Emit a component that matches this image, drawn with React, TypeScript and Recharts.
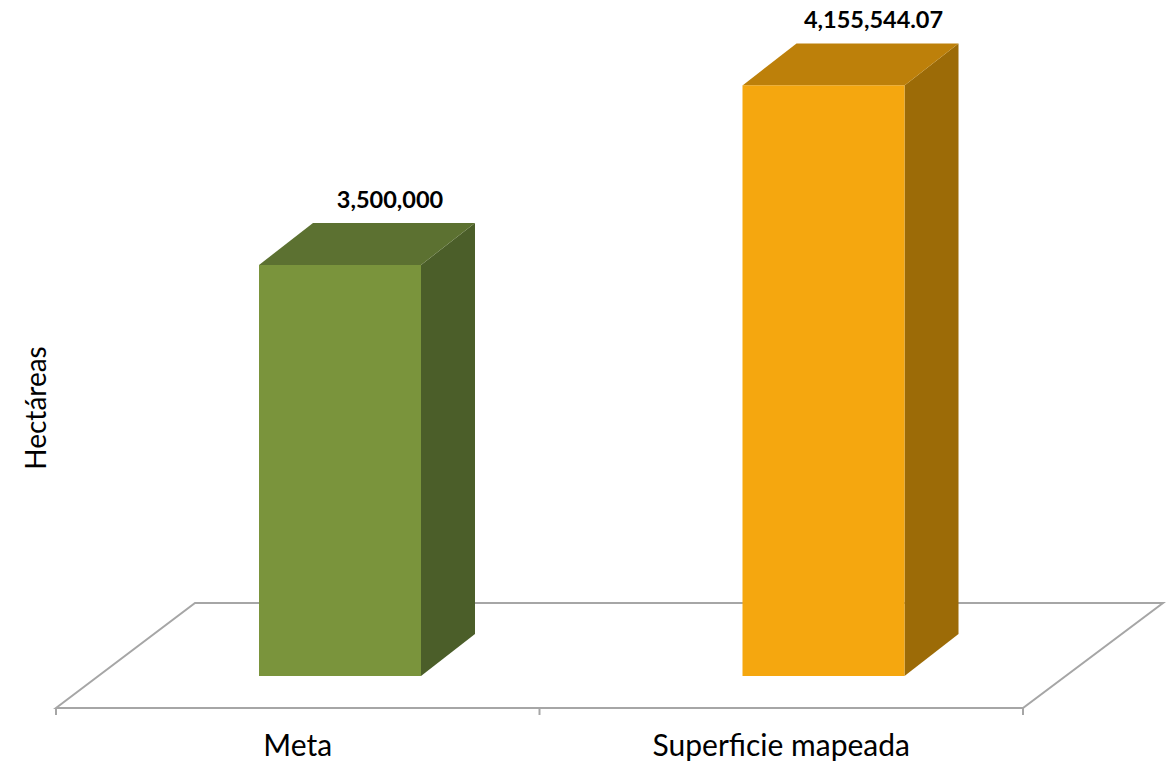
import React from 'react';
import { BarChart, Bar, XAxis, YAxis, ReferenceArea, LabelList, Cell } from 'recharts';

const categories = ['Meta', 'Superficie mapeada'];
const values = [3500000, 4155544.07];
const frontColors = ['#7a943c', '#f5a70f'];
const topColors = ['#5c7131', '#bd800a'];
const sideColors = ['#4b5e29', '#9c6b07'];
const yDomain = [2000000, 4500000];
const yTitle = 'Hectáreas';

const data = categories.map((c, i) => ({ name: c, value: values[i] }));

const FONT = 'Lato, "Open Sans", sans-serif';
const SHIFT_X = 42;
const SHIFT_Y = -32;
const DEPTH_X = 54;
const DEPTH_Y = -42;

const fmt = new Intl.NumberFormat('en-US', { maximumFractionDigits: 2 });

const Bar3D = (props: any) => {
  const { x, y, width, height, index } = props;
  const fx = x + SHIFT_X;
  const fy = y + SHIFT_Y;
  const top = `${fx},${fy} ${fx + DEPTH_X},${fy + DEPTH_Y} ${fx + width + DEPTH_X},${fy + DEPTH_Y} ${fx + width},${fy}`;
  const side = `${fx + width},${fy} ${fx + width + DEPTH_X},${fy + DEPTH_Y} ${fx + width + DEPTH_X},${fy + height + DEPTH_Y} ${fx + width},${fy + height}`;
  return (
    <g>
      <polygon points={side} fill={sideColors[index]} />
      <polygon points={top} fill={topColors[index]} />
      <rect x={fx} y={fy} width={width} height={height} fill={frontColors[index]} />
    </g>
  );
};

const Floor = (props: any) => {
  const { x, y, width, height } = props;
  const by = y + height;
  const pts = `${x},${by} ${x + 139},${by - 105} ${x + width + 140},${by - 105} ${x + width},${by}`;
  const ticks = [];
  for (let i = 0; i <= categories.length; i++) {
    const tx = x + (i * width) / categories.length;
    ticks.push(<line key={i} x1={tx} y1={by} x2={tx} y2={by + 7} stroke="#a6a6a6" strokeWidth={2} />);
  }
  return (
    <g>
      <polygon points={pts} fill="#ffffff" stroke="#a6a6a6" strokeWidth={2} />
      {ticks}
    </g>
  );
};

const ValueLabel = (props: any) => {
  const { x, y, width, value } = props;
  const cx = x + SHIFT_X + width / 2 + 50;
  const cy = y + SHIFT_Y + DEPTH_Y - 15;
  return (
    <text x={cx} y={cy} textAnchor="middle" fontFamily={FONT} fontWeight={700} fontSize={23.5} fill="#000">
      {fmt.format(value)}
    </text>
  );
};

export default function App() {
  return (
    <div style={{ position: 'absolute', left: 0, top: 0, width: 1169, height: 762, background: '#fff' }}>
      <BarChart
        width={1169}
        height={762}
        data={data}
        margin={{ top: 23, right: 146, bottom: 0, left: 0 }}
        barSize={162}
      >
        <XAxis
          dataKey="name"
          axisLine={false}
          tickLine={false}
          tickSize={0}
          tickMargin={27}
          height={54}
          tick={{ fontFamily: FONT, fontSize: 30, fill: '#000' }}
          interval={0}
        />
        <YAxis
          type="number"
          domain={yDomain}
          allowDataOverflow
          width={56}
          tick={false}
          axisLine={false}
          tickLine={false}
          label={{
            content: () => (
              <text
                x={35}
                y={408}
                transform="rotate(-90 35 408)"
                textAnchor="middle"
                dominantBaseline="central"
                fontFamily={FONT}
                fontSize={28}
                fill="#000"
              >
                {yTitle}
              </text>
            ),
          }}
        />
        <ReferenceArea y1={yDomain[0]} y2={yDomain[0] + 100000} shape={<Floor />} ifOverflow="visible" />
        <Bar dataKey="value" shape={<Bar3D />} isAnimationActive={false}>
          {data.map((d, i) => (
            <Cell key={i} fill={frontColors[i]} />
          ))}
          <LabelList dataKey="value" content={<ValueLabel />} />
        </Bar>
      </BarChart>
    </div>
  );
}
